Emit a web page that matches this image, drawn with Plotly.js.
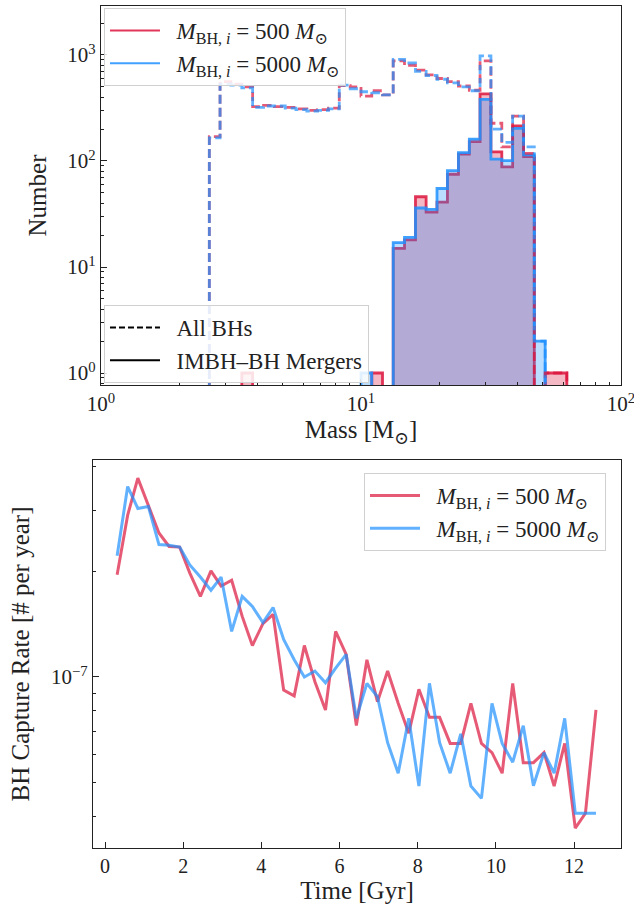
<!DOCTYPE html>
<html><head><meta charset="utf-8">
<script src="https://cdn.plot.ly/plotly-3.0.1.min.js"></script>
<style>html,body{margin:0;padding:0;background:#fff}</style>
</head><body><div id="chart" style="width:634px;height:912px"></div>
<script>
// ---------- Top panel: mass histograms (log-spaced bins) ----------
const massEdges = [2.61, 2.87, 3.16, 3.48, 3.83, 4.22, 4.64, 5.11, 5.62, 6.19, 6.81, 7.50, 8.25, 9.09, 10.0, 11.0, 12.1, 13.3, 14.7, 16.2, 17.8, 19.6, 21.5, 23.7, 26.1, 28.7, 31.6, 34.8, 38.3, 42.2, 46.4, 51.1, 56.2, 61.9];
const allBH500  = [170, 560, 530, 500, 325, 335, 325, 320, 310, 300, 305, 315, 515, 500, 410, 460, 420, 880, 800, 720, 650, 600, 560, 510, 465, 880, 227, 136, 265, 118, 0, 1, 1];
const allBH5000 = [165, 530, 520, 490, 320, 330, 330, 315, 305, 295, 300, 310, 520, 480, 450, 440, 420, 910, 840, 700, 640, 590, 545, 500, 460, 980, 200, 150, 265, 136, 2, 0, 0];
const merge500  = [0, 0, 0, 1, 0, 0, 0, 0, 0, 0, 0, 0, 0, 0, 0, 1, 0, 15, 18, 46, 33, 41, 75, 116, 152, 429, 122, 88, 214, 110, 0, 1, 1];
const merge5000 = [0, 0, 0, 0, 0, 0, 0, 0, 0, 0, 0, 0, 0, 0, 1, 0, 0, 17, 19, 36, 35, 55, 81, 120, 161, 382, 104, 101, 203, 114, 2, 0, 0];

// ---------- Bottom panel: capture rate vs time ----------
const timeGyr = [0.31, 0.58, 0.84, 1.11, 1.38, 1.64, 1.91, 2.17, 2.44, 2.71, 2.97, 3.24, 3.51, 3.77, 4.04, 4.30, 4.57, 4.84, 5.10, 5.37, 5.64, 5.90, 6.17, 6.43, 6.70, 6.97, 7.23, 7.50, 7.77, 8.03, 8.30, 8.56, 8.83, 9.10, 9.36, 9.63, 9.90, 10.16, 10.43, 10.70, 10.96, 11.23, 11.49, 11.76, 12.03, 12.29, 12.56];
const rate500 = [1.96e-7, 2.90e-7, 3.70e-7, 3.10e-7, 2.58e-7, 2.36e-7, 2.35e-7, 1.98e-7, 1.70e-7, 2.01e-7, 1.82e-7, 1.89e-7, 1.49e-7, 1.23e-7, 1.42e-7, 1.51e-7, 9.18e-8, 8.83e-8, 1.23e-7, 9.69e-8, 8.05e-8, 1.35e-7, 1.16e-7, 7.27e-8, 1.12e-7, 8.50e-8, 1.04e-7, 8.41e-8, 6.91e-8, 9.22e-8, 7.67e-8, 7.67e-8, 6.46e-8, 6.46e-8, 8.41e-8, 6.46e-8, 6.08e-8, 5.31e-8, 9.59e-8, 5.69e-8, 5.69e-8, 6.08e-8, 4.88e-8, 6.46e-8, 3.70e-8, 4.08e-8, 8.05e-8];
const rate5000 = [2.22e-7, 3.50e-7, 3.03e-7, 3.07e-7, 2.39e-7, 2.38e-7, 2.35e-7, 2.09e-7, 1.93e-7, 1.77e-7, 1.93e-7, 1.35e-7, 1.70e-7, 1.59e-7, 1.43e-7, 1.58e-7, 1.28e-7, 1.12e-7, 1.00e-7, 1.04e-7, 9.63e-8, 1.06e-7, 1.16e-7, 7.62e-8, 9.59e-8, 8.78e-8, 6.49e-8, 5.31e-8, 7.62e-8, 4.88e-8, 9.59e-8, 6.49e-8, 5.31e-8, 6.88e-8, 4.88e-8, 4.50e-8, 8.41e-8, 6.46e-8, 5.71e-8, 7.26e-8, 4.89e-8, 6.08e-8, 5.31e-8, 7.62e-8, 4.08e-8, 4.08e-8, 4.08e-8];

const SP = '\u00a0\u00a0';
const lab500 = SP + '<i>M</i><sub>BH, <i>i</i></sub> = 500 <i>M</i><sub>⊙</sub>';
const lab5000 = SP + '<i>M</i><sub>BH, <i>i</i></sub> = 5000 <i>M</i><sub>⊙</sub>';

const RED_L = 'rgba(220,20,60,0.85)', BLUE_L = 'rgba(30,144,255,0.85)';
const RED_F = 'rgba(220,20,60,0.3)', BLUE_F = 'rgba(30,144,255,0.3)';
const FONT = '"Liberation Serif", "DejaVu Serif", serif';

// step outline (matplotlib histtype='step') from bin edges and counts
function stepPath(edges, counts) {
  const base = 1e-3;
  const xs = [edges[0]], ys = [base];
  for (let j = 0; j < counts.length; j++) {
    const c = counts[j] > 0 ? counts[j] : base;
    xs.push(edges[j], edges[j + 1]);
    ys.push(c, c);
  }
  xs.push(edges[edges.length - 1]); ys.push(base);
  return {x: xs, y: ys};
}

const traces = [];
const pR = stepPath(massEdges, merge500), pB = stepPath(massEdges, merge5000);
const dR = stepPath(massEdges, allBH500), dB = stepPath(massEdges, allBH5000);
traces.push({x: pR.x, y: pR.y, type: 'scatter', mode: 'lines', fill: 'toself', fillcolor: RED_F,
  line: {color: RED_L, width: 2.8}, showlegend: false, hoverinfo: 'skip', xaxis: 'x', yaxis: 'y'});
traces.push({x: pB.x, y: pB.y, type: 'scatter', mode: 'lines', fill: 'toself', fillcolor: BLUE_F,
  line: {color: BLUE_L, width: 2.8}, showlegend: false, hoverinfo: 'skip', xaxis: 'x', yaxis: 'y'});
traces.push({x: dR.x, y: dR.y, type: 'scatter', mode: 'lines',
  line: {color: 'rgba(220,20,60,0.7)', width: 2.8, dash: '9px,4px'}, showlegend: false, hoverinfo: 'skip', xaxis: 'x', yaxis: 'y'});
traces.push({x: dB.x, y: dB.y, type: 'scatter', mode: 'lines',
  line: {color: 'rgba(30,144,255,0.7)', width: 2.8, dash: '9px,4px'}, showlegend: false, hoverinfo: 'skip', xaxis: 'x', yaxis: 'y'});
// legend entries (top panel)
traces.push({x: [null], y: [null], type: 'scatter', mode: 'lines', name: lab500, line: {color: RED_L, width: 2}, legend: 'legend', xaxis: 'x', yaxis: 'y'});
traces.push({x: [null], y: [null], type: 'scatter', mode: 'lines', name: lab5000, line: {color: BLUE_L, width: 2}, legend: 'legend', xaxis: 'x', yaxis: 'y'});
traces.push({x: [null], y: [null], type: 'scatter', mode: 'lines', name: SP + 'All BHs', line: {color: '#000', width: 2, dash: '6px,3px'}, legend: 'legend2', xaxis: 'x', yaxis: 'y'});
traces.push({x: [null], y: [null], type: 'scatter', mode: 'lines', name: SP + 'IMBH–BH Mergers', line: {color: '#000', width: 2}, legend: 'legend2', xaxis: 'x', yaxis: 'y'});
// bottom panel
traces.push({x: timeGyr, y: rate500, type: 'scatter', mode: 'lines', name: lab500,
  line: {color: 'rgba(220,20,60,0.7)', width: 3}, legend: 'legend3', xaxis: 'x2', yaxis: 'y2'});
traces.push({x: timeGyr, y: rate5000, type: 'scatter', mode: 'lines', name: lab5000,
  line: {color: 'rgba(30,144,255,0.7)', width: 3}, legend: 'legend3', xaxis: 'x2', yaxis: 'y2'});

const axBase = {showline: true, linecolor: '#222', linewidth: 1.2, mirror: true, ticks: 'inside',
  ticklen: 6, tickwidth: 1, tickcolor: '#222', showgrid: false, zeroline: false,
  ticklabeloverflow: 'allow', tickfont: {family: FONT, size: 21, color: '#222'}};
const minTop = [2,3,4,5,6,7,8,9,20,30,40,50,60,70,80,90];
const minY = [0.8,0.9,2,3,4,5,6,7,8,9,20,30,40,50,60,70,80,90,200,300,400,500,600,700,800,900,2000];
const minY2 = [4e-8,5e-8,6e-8,7e-8,8e-8,9e-8,2e-7,3e-7,4e-7];

const legBase = {bgcolor: 'rgba(255,255,255,0.85)', bordercolor: '#d0d0d0', borderwidth: 1,
  font: {family: FONT, size: 23, color: '#222'}, itemwidth: 50, tracegroupgap: 0};
const TF = {family: FONT, size: 25, color: '#222'};

const layout = {
  width: 634, height: 912, paper_bgcolor: '#fff', plot_bgcolor: '#fff',
  margin: {l: 93, r: 13, t: 6, b: 64},
  font: {family: FONT, color: '#222'},
  xaxis: Object.assign({}, axBase, {type: 'log', range: [0, 2], domain: [0.01515, 1], anchor: 'y',
    tickvals: [1, 10, 100], ticktext: ['10<sup>0</sup>', '10<sup>1</sup>', '10<sup>2</sup>'],
    minor: {tickvals: minTop, ticks: 'inside', ticklen: 3, tickcolor: '#222'},
    title: {text: 'Mass [M<sub>⊙</sub>]', font: TF, standoff: 2}}),
  yaxis: Object.assign({}, axBase, {type: 'log', range: [-0.113, 3.462], domain: [0.5499, 1], anchor: 'x',
    tickvals: [1, 10, 100, 1000], ticktext: ['10<sup>0</sup>', '10<sup>1</sup>', '10<sup>2</sup>', '10<sup>3</sup>'],
    minor: {tickvals: minY, ticks: 'inside', ticklen: 3, tickcolor: '#222'},
    title: {text: 'Number', font: TF, standoff: 13}}),
  xaxis2: Object.assign({}, axBase, {range: [-0.307, 13.2], domain: [0, 1], anchor: 'y2',
    tickvals: [0, 2, 4, 6, 8, 10, 12], tickfont: {family: FONT, size: 20, color: '#222'},
    title: {text: 'Time [Gyr]', font: TF, standoff: 2}}),
  yaxis2: Object.assign({}, axBase, {type: 'log', range: [-7.4886, -6.38], domain: [0, 0.4608], anchor: 'x2',
    tickvals: [1e-7], ticktext: ['10<sup>−7</sup>'],
    minor: {tickvals: minY2, ticks: 'inside', ticklen: 3, tickcolor: '#222'},
    title: {text: 'BH Capture Rate [# per year]', font: TF, standoff: 14}}),
  legend: Object.assign({}, legBase, {x: 0.0208, y: 0.9976, xanchor: 'left', yanchor: 'top'}),
  legend2: Object.assign({}, legBase, {x: 0.0208, y: 0.5523, xanchor: 'left', yanchor: 'bottom'}),
  legend3: Object.assign({}, legBase, {x: 0.9716, y: 0.4454, xanchor: 'right', yanchor: 'top'}),
  showlegend: true
};

Plotly.newPlot('chart', traces, layout, {displayModeBar: false, staticPlot: true});
</script></body></html>
